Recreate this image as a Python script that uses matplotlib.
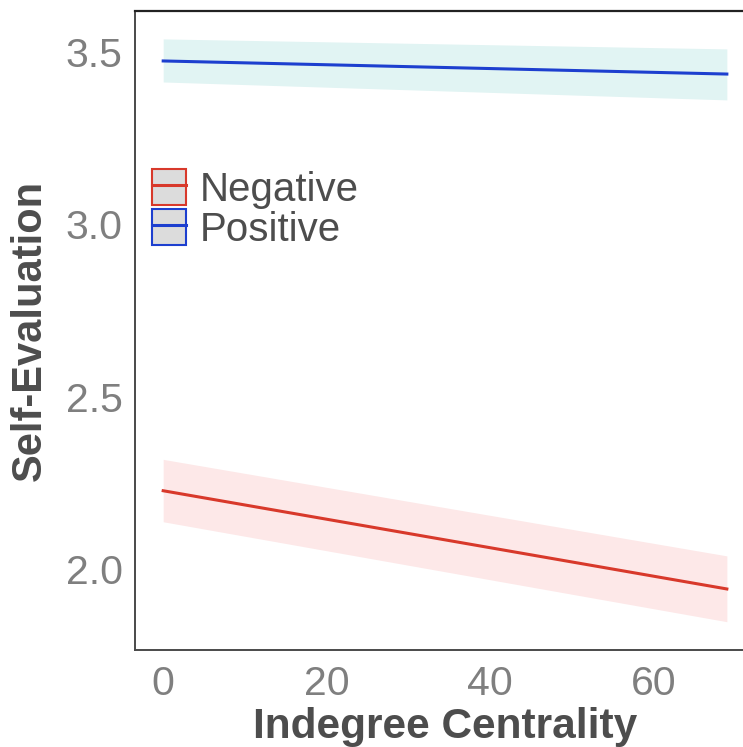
import matplotlib
matplotlib.use("Agg")
import matplotlib.pyplot as plt
from matplotlib.patches import Patch
from matplotlib.lines import Line2D

# Fitted regression lines with confidence bands
centrality = [0, 69]
groups = ["Negative", "Positive"]
fit = {
    "Negative": [2.227, 1.942],
    "Positive": [3.474, 3.436],
}
lower = {
    "Negative": [2.137, 1.847],
    "Positive": [3.413, 3.361],
}
upper = {
    "Negative": [2.318, 2.038],
    "Positive": [3.538, 3.509],
}
line_colors = {"Negative": "#d8392b", "Positive": "#1d3fcf"}
band_colors = {"Negative": "#fde8e8", "Positive": "#e1f4f3"}

x_ticks = [0, 20, 40, 60]
y_ticks = [2.0, 2.5, 3.0, 3.5]

plt.rcParams["font.family"] = ["Liberation Sans", "DejaVu Sans"]

fig = plt.figure(figsize=(7.43, 7.47), dpi=100)
ax = fig.add_axes([0.1817, 0.1299, 0.8345, 0.8554])

for g in groups:
    ax.fill_between(centrality, lower[g], upper[g], color=band_colors[g], lw=0, zorder=1)
    ax.plot(centrality, fit[g], color=line_colors[g], lw=2.2, zorder=2)

ax.set_xlim(-3.45, 72.45)
ax.set_ylim(1.765, 3.619)
ax.set_xticks(x_ticks)
ax.set_xticklabels([str(v) for v in x_ticks])
ax.set_yticks(y_ticks)
ax.set_yticklabels([f"{v:.1f}" for v in y_ticks])
ax.tick_params(length=0, labelsize=29.5, labelcolor="#7f7f7f")
ax.tick_params(axis="y", pad=9)
ax.tick_params(axis="x", pad=11)

for side in ["left", "bottom"]:
    ax.spines[side].set_color("#4a4a4a")
    ax.spines[side].set_linewidth(1.4)
ax.spines["top"].set_color("#222222")
ax.spines["top"].set_linewidth(1.6)
ax.spines["right"].set_visible(False)

ax.set_xlabel("Indegree Centrality", fontsize=30.5, fontweight="bold", color="#4d4d4d", labelpad=3)
ax.set_ylabel("Self-Evaluation", fontsize=30, fontweight="bold", color="#4d4d4d", labelpad=11)

handles = [
    (Patch(facecolor="#dcdcdc", edgecolor=line_colors[g], linewidth=1.5),
     Line2D([], [], color=line_colors[g], lw=2.2))
    for g in groups
]
leg = ax.legend(handles, groups, loc="upper left", bbox_to_anchor=(0.027, 0.7527),
                frameon=False, fontsize=29, labelcolor="#4d4d4d",
                handlelength=0.84, handleheight=1.0, handletextpad=0.35,
                labelspacing=0.0, borderaxespad=0.0, borderpad=0.0)

fig.savefig("out.png", dpi=100)
